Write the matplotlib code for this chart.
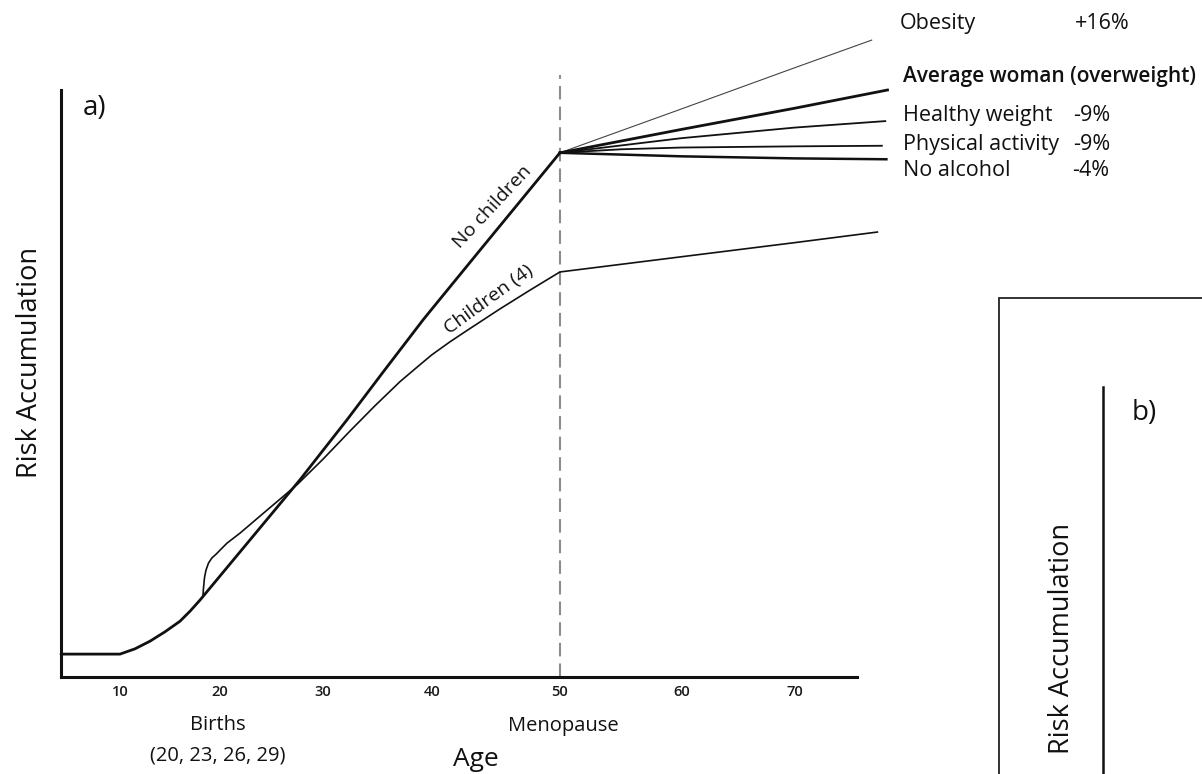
import numpy as np
import matplotlib
matplotlib.use("Agg")
import matplotlib.pyplot as plt
from matplotlib.patches import Rectangle

plt.rcParams['font.family'] = ['Open Sans', 'DejaVu Sans']

# ---------------- data (age, relative risk accumulation 0-100) ----------------
AGE_TICKS = [10, 20, 30, 40, 50, 60, 70]
AGE_TICK_LABELS = ['10', '20', '30', '40', '50', '60', '70']

no_children_age = [4.1, 10, 11.5, 13, 14.5, 16, 17, 18, 20, 27.77, 30, 32.2, 35.5,
                   39.17, 40, 43.75, 47.97, 50]
no_children_risk = [3.9, 3.9, 4.8, 6.1, 7.7, 9.5, 11.2, 13.1, 17.2, 33.6, 38.6, 43.8,
                    51.9, 60.8, 62.7, 72.7, 83.9, 89.3]

children_age = [18.3, 18.35, 18.45, 18.6, 18.85, 19.2, 19.6, 20, 20.68, 21.94, 23.88,
                25.83, 27.57, 30, 32.48, 34.77, 37.06, 38.9, 40, 41.41, 42.58, 45.31,
                47.66, 50, 60, 70, 77.3]
children_risk = [13.8, 15.1, 16.9, 18.2, 19.4, 20.3, 20.9, 21.6, 22.8, 24.5, 27.4,
                 30.3, 32.9, 37.1, 41.9, 46.2, 50.3, 53.2, 54.9, 57.1, 58.8, 62.7,
                 65.9, 69.0, 71.6, 74.0, 75.8]

obesity_age = [50, 60, 70, 76.8]
obesity_risk = [89.3, 96.8, 103.8, 108.5]
average_age = [50, 60, 70, 78.2]
average_risk = [89.3, 93.3, 96.9, 100.0]
healthy_age = [50, 60, 70, 78.0]
healthy_risk = [89.3, 91.8, 93.6, 94.7]
activity_age = [50, 55, 60, 70, 77.7]
activity_risk = [89.3, 89.9, 90.2, 90.4, 90.5]
alcohol_age = [50, 60, 70, 78.1]
alcohol_risk = [89.3, 88.7, 88.35, 88.2]

menopause_age = 50
menopause_risk = [0, 102.6]

# hand-drawn (non-uniform) age axis of the original figure
SCALE_AGE = [0, 10, 20, 30, 40, 50, 60, 70, 90]
SCALE_POS = [20, 120, 220, 323, 432, 560, 682, 795, 1021]

def fwd(a):
    return np.interp(a, SCALE_AGE, SCALE_POS)

def inv(p):
    return np.interp(p, SCALE_POS, SCALE_AGE)

W, H = 1202, 774
def fx(x):
    return x / W
def fy(y):
    return 1 - y / H

fig = plt.figure(figsize=(W / 100, H / 100), dpi=100)
ax = fig.add_axes([fx(61), fy(677), (857 - 61) / W, (677 - 90) / H])
ax.set_xscale('function', functions=(fwd, inv))
ax.set_xlim(4.1, 75.5)
ax.set_ylim(0, 100)

ink = '#111111'
ax.plot(no_children_age, no_children_risk, color=ink, lw=2.0, clip_on=False,
        solid_capstyle='round', solid_joinstyle='round')
ax.plot(children_age, children_risk, color=ink, lw=1.2, clip_on=False,
        solid_joinstyle='round')
ax.plot(obesity_age, obesity_risk, color='#444444', lw=0.8, clip_on=False)
ax.plot(average_age, average_risk, color=ink, lw=2.0, clip_on=False)
ax.plot(healthy_age, healthy_risk, color=ink, lw=1.3, clip_on=False)
ax.plot(activity_age, activity_risk, color=ink, lw=1.3, clip_on=False)
ax.plot(alcohol_age, alcohol_risk, color=ink, lw=1.8, clip_on=False)
ax.plot([menopause_age, menopause_age], menopause_risk, color='#8c8c8c', lw=1.5,
        linestyle=(0, (6.5, 3.4)), clip_on=False, zorder=1)

for s in ['top', 'right']:
    ax.spines[s].set_visible(False)
for s in ['left', 'bottom']:
    ax.spines[s].set_linewidth(2.2)
    ax.spines[s].set_color(ink)
    ax.spines[s].set_capstyle('projecting')
ax.set_yticks([])
ax.set_xticks(AGE_TICKS)
ax.set_xticklabels(AGE_TICK_LABELS)
ax.tick_params(axis='x', length=0, pad=6, labelsize=10.5, labelcolor='#1a1a1a')
for t in ax.get_xticklabels():
    t.set_fontweight('semibold')
ax.set_facecolor('none')

tc = '#111111'
def T(x, y, s, size=14.5, ha='left', va='baseline', rot=0, weight='normal'):
    fig.text(fx(x), fy(y), s, fontsize=size, ha=ha, va=va, rotation=rot,
             color=tc, fontweight=weight,
             rotation_mode='anchor' if rot not in (0, 90) else 'default')

T(83, 115, 'a)', size=20)
T(30, 362, 'Risk Accumulation', size=19.5, ha='center', va='center', rot=90)
T(218, 730, 'Births', ha='center')
T(218, 760, '(20, 23, 26, 29)', ha='center')
T(563, 731, 'Menopause', ha='center')
T(476, 766, 'Age', size=19, ha='center')
T(492, 207, 'No children', size=14, ha='center', va='center', rot=47)
T(489, 300, 'Children (4)', size=14, ha='center', va='center', rot=36)

T(900, 29, 'Obesity', size=15.5)
T(1075, 29, '+16%', size=15.5)
T(903, 82, 'Average woman (overweight)', size=15, weight='semibold')
T(903, 121, 'Healthy weight', size=15.5)
T(1073, 121, '-9%', size=15.5)
T(903, 150, 'Physical activity', size=15.5)
T(1073, 150, '-9%', size=15.5)
T(903, 176, 'No alcohol', size=15.5)
T(1072, 176, '-4%', size=15.5)

# ---------------- panel b (partially visible) ----------------
box = Rectangle((fx(999), -0.1), 0.3, fy(298) + 0.1, transform=fig.transFigure,
                fill=False, lw=1.3, ec='#222222')
fig.add_artist(box)
axb = fig.add_axes([fx(1103), -0.05, 0.08, fy(387) + 0.05])
axb.set_facecolor('none')
for s in ['top', 'right', 'bottom']:
    axb.spines[s].set_visible(False)
axb.spines['left'].set_linewidth(1.8)
axb.spines['left'].set_color(ink)
axb.set_xticks([])
axb.set_yticks([])
T(1132, 420, 'b)', size=20)
T(1062, 638, 'Risk Accumulation', size=19.5, ha='center', va='center', rot=90)

fig.savefig('out.png', dpi=100)
